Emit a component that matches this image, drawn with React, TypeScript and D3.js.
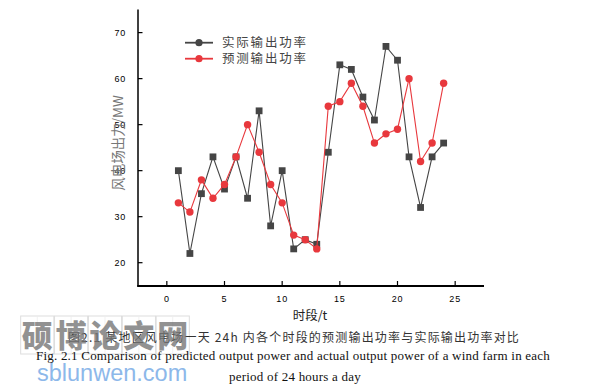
import React from "react";
import * as d3 from "d3";

const hours = [1,2,3,4,5,6,7,8,9,10,11,12,13,14,15,16,17,18,19,20,21,22,23,24];
const actual = [40,22,35,43,36,43,34,53,28,40,23,25,24,44,63,62,56,51,67,64,43,32,43,46];
const predicted = [33,31,38,34,37,43,50,44,37,33,26,25,23,54,55,59,54,46,48,49,60,42,46,59];
const xTicks = [0,5,10,15,20,25];
const yTicks = [20,30,40,50,60,70];
const seriesNames = ["实际输出功率", "预测输出功率"];
const watermarkChars = ["硕","博","论","文","网"];

const GRAY = "#454545";
const RED = "#e8383d";

export default function App() {
  const x = d3.scaleLinear().domain([-2.5, 27.5]).range([138, 484]);
  const y = d3.scaleLinear().domain([15, 75]).range([285.7, 9.6]);
  const line = d3.line<number>().x((_, i) => x(hours[i])).y((d) => y(d));
  const wx = d3.scaleBand<string>().domain(watermarkChars).range([20, 190]).padding(0.02);

  return (
    <div style={{ position: "fixed", left: 0, top: 0 }}>
      <svg width={594} height={391} style={{ display: "block", background: "#fff" }} fontFamily="'Liberation Sans', Arial, sans-serif">
        {/* axes */}
        <line x1={138} x2={138} y1={9.6} y2={286.5} stroke="#000" strokeWidth={1.5} />
        <line x1={137.2} x2={484} y1={286} y2={286} stroke="#000" strokeWidth={2.2} />
        {yTicks.map((t) => (
          <g key={"y" + t}>
            <line x1={138} x2={142.5} y1={y(t)} y2={y(t)} stroke="#000" strokeWidth={1.2} />
            <text x={126} y={y(t) + 3.2} fontSize={9} textAnchor="end" fill="#000" letterSpacing={0.8}>{t}</text>
          </g>
        ))}
        {xTicks.map((t) => (
          <g key={"x" + t}>
            <line x1={x(t)} x2={x(t)} y1={286} y2={281} stroke="#000" strokeWidth={1.2} />
            <text x={x(t)} y={301.5} fontSize={9} textAnchor="middle" fill="#000" letterSpacing={0.8}>{t}</text>
          </g>
        ))}
        <text x={310} y={320} fontSize={12.5} textAnchor="middle" fill="#222" fontFamily="'Noto Sans CJK SC', sans-serif">时段/t</text>
        <text transform="translate(123,143) rotate(-90)" fontSize={13.5} textAnchor="middle" fill="#777" fontFamily="'Noto Sans CJK SC', sans-serif">风电场出力/MW</text>

        {/* series */}
        <path d={line(actual) || ""} fill="none" stroke={GRAY} strokeWidth={1.1} />
        {actual.map((v, i) => (
          <rect key={"a" + i} x={x(hours[i]) - 3.4} y={y(v) - 3.4} width={6.8} height={6.8} fill={GRAY} />
        ))}
        <path d={line(predicted) || ""} fill="none" stroke={RED} strokeWidth={1.1} />
        {predicted.map((v, i) => (
          <circle key={"p" + i} cx={x(hours[i])} cy={y(v)} r={3.7} fill={RED} />
        ))}

        {/* legend */}
        {seriesNames.map((n, i) => (
          <g key={n} transform={`translate(0,${42.7 + i * 16})`}>
            <line x1={185} x2={213} y1={0} y2={0} stroke={i === 0 ? GRAY : RED} strokeWidth={1.8} />
            <circle cx={199} cy={0} r={3.6} fill={i === 0 ? GRAY : RED} />
            <text x={222} y={4.6} fontSize={12.5} fill="#444" letterSpacing={1.8} fontFamily="'Noto Sans CJK SC', sans-serif">{n}</text>
          </g>
        ))}

        {/* watermark boxes */}
        {watermarkChars.map((c) => (
          <g key={c}>
            <rect x={wx(c)!} y={316} width={wx.bandwidth()} height={38} fill="none" stroke="#ddd" strokeWidth={1} />
            <line x1={wx(c)! + wx.bandwidth() / 2} x2={wx(c)! + wx.bandwidth() / 2} y1={316} y2={354} stroke="#eee" strokeWidth={0.8} />
          </g>
        ))}

        {/* captions */}
        <text x={294} y={342} fontSize={12} textAnchor="middle" fill="#333" letterSpacing={1.2} fontFamily="'Noto Sans CJK SC', serif">图2.1 某地区风电场一天 24h 内各个时段的预测输出功率与实际输出功率对比</text>
        <text x={293} y={360} fontSize={13} textAnchor="middle" fill="#111" letterSpacing={0.22} fontFamily="'Liberation Serif', 'Times New Roman', serif">Fig. 2.1 Comparison of predicted output power and actual output power of a wind farm in each</text>
        <text x={295} y={381} fontSize={13} textAnchor="middle" fill="#111" letterSpacing={0.22} fontFamily="'Liberation Serif', 'Times New Roman', serif">period of 24 hours a day</text>

        {/* watermark text */}
        {watermarkChars.map((c) => (
          <text key={"w" + c} x={wx(c)! + wx.bandwidth() / 2} y={347} fontSize={31} fontWeight={900} textAnchor="middle" fill="#777" opacity={0.8} fontFamily="'Noto Sans CJK SC', sans-serif">{c}</text>
        ))}
        <text x={37} y={381} fontSize={23.5} fill="#8db8ea" fontFamily="'Liberation Sans', Arial, sans-serif">sblunwen.com</text>
      </svg>
    </div>
  );
}
